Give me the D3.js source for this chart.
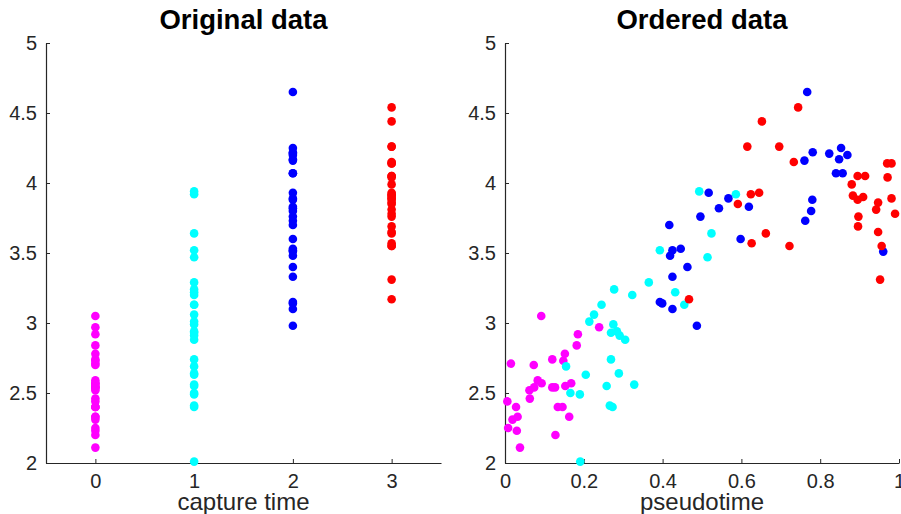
<!DOCTYPE html>
<html>
<head>
<meta charset="utf-8">
<script src="https://cdn.jsdelivr.net/npm/d3@7"></script>
<style>
  body { margin: 0; background: #fff; }
  text { font-family: "Liberation Sans", Arial, Helvetica, sans-serif; }
</style>
</head>
<body>
<svg id="chart" width="901" height="514"></svg>
<script>
// capture time groups and their colours
const captureTimes = [0, 1, 2, 3];
const groupColors = ["#ff00ff", "#00ffff", "#0000ff", "#ff0000"];

// pseudotime / value per capture time group
const pseudo0 = [0.092, 0.239, 0.185, 0.182, 0.152, 0.148, 0.120, 0.015, 0.073, 0.083, 0.093, 0.074, 0.062, 0.063, 0.120,
  0.127, 0.153, 0.168, 0.006, 0.028, 0.134, 0.146, 0.032, 0.019, 0.163, 0.008, 0.030, 0.128, 0.038];
const value0 = [3.05, 2.97, 2.92, 2.84, 2.78, 2.73, 2.74, 2.71, 2.70, 2.59, 2.57, 2.54, 2.52, 2.46, 2.54,
  2.54, 2.55, 2.57, 2.44, 2.40, 2.40, 2.40, 2.33, 2.31, 2.33, 2.25, 2.23, 2.20, 2.11];

const pseudo1 = [0.277, 0.323, 0.365, 0.245, 0.226, 0.214, 0.275, 0.269, 0.284, 0.291, 0.305, 0.155, 0.205, 0.269, 0.289,
  0.258, 0.328, 0.166, 0.190, 0.266, 0.273, 0.191, 0.493, 0.586, 0.524, 0.393, 0.514, 0.432, 0.455];
const value1 = [3.24, 3.20, 3.29, 3.13, 3.06, 3.01, 2.99, 2.93, 2.94, 2.91, 2.88, 2.69, 2.63, 2.74, 2.64,
  2.55, 2.56, 2.50, 2.49, 2.41, 2.40, 2.01, 3.94, 3.92, 3.64, 3.52, 3.47, 3.22, 3.13];

const pseudo2 = [0.767, 0.781, 0.760, 0.823, 0.853, 0.848, 0.869, 0.840, 0.857, 0.780, 0.777, 0.762, 0.619, 0.598, 0.960,
  0.517, 0.567, 0.543, 0.496, 0.417, 0.425, 0.419, 0.446, 0.463, 0.425, 0.393, 0.399, 0.425, 0.487];
const value2 = [4.65, 4.22, 4.16, 4.21, 4.25, 4.17, 4.20, 4.07, 4.07, 3.88, 3.80, 3.73, 3.83, 3.60, 3.51,
  3.93, 3.89, 3.82, 3.76, 3.70, 3.52, 3.48, 3.53, 3.40, 3.33, 3.15, 3.14, 3.10, 2.98];

const pseudo3 = [0.744, 0.652, 0.615, 0.696, 0.733, 0.624, 0.645, 0.591, 0.662, 0.626, 0.722, 0.467, 0.895, 0.914, 0.880,
  0.883, 0.895, 0.909, 0.897, 0.896, 0.947, 0.942, 0.981, 0.990, 0.970, 0.981, 0.971, 0.947, 0.956, 0.952];
const value3 = [4.54, 4.44, 4.26, 4.26, 4.15, 3.92, 3.93, 3.85, 3.64, 3.57, 3.55, 3.17, 4.05, 4.05, 3.99,
  3.91, 3.88, 3.90, 3.76, 3.69, 3.86, 3.81, 3.89, 3.78, 4.14, 4.14, 4.04, 3.65, 3.55, 3.31];

const yTicks = [2, 2.5, 3, 3.5, 4, 4.5, 5];
const pseudoTicks = [0, 0.2, 0.4, 0.6, 0.8, 1];

const pseudoByGroup = [pseudo0, pseudo1, pseudo2, pseudo3];
const valueByGroup = [value0, value1, value2, value3];

const points = [];
captureTimes.forEach((g, gi) => {
  valueByGroup[gi].forEach((v, i) => {
    points.push({ group: g, pseudo: pseudoByGroup[gi][i], value: v, color: groupColors[gi] });
  });
});

const svg = d3.select("#chart");
const plotTop = 43, plotBottom = 463;
const fmt = d3.format("~g");
const axisColor = "#262626";

const y = d3.scaleLinear().domain([2, 5]).range([plotBottom, plotTop]);

const drawPanel = (left, right, title, xLabel, xScale, xTicks, xAccessor) => {
  const g = svg.append("g");

  g.append("g")
    .attr("transform", `translate(0,${plotBottom})`)
    .call(d3.axisBottom(xScale).tickValues(xTicks).tickFormat(fmt).tickSizeInner(-4).tickSizeOuter(0).tickPadding(11));

  g.append("g")
    .attr("transform", `translate(${left},0)`)
    .call(d3.axisLeft(y).tickValues(yTicks).tickFormat(fmt).tickSizeInner(-4).tickSizeOuter(0).tickPadding(9));

  g.selectAll(".domain").attr("stroke", axisColor).attr("stroke-width", 1.2);
  g.selectAll(".tick line").attr("stroke", axisColor).attr("stroke-width", 1);
  g.selectAll(".tick text").attr("font-size", 20).attr("fill", axisColor)
    .style("font-family", '"Liberation Sans", Arial, sans-serif');

  g.selectAll("circle")
    .data(points)
    .enter()
    .append("circle")
    .attr("cx", d => xScale(xAccessor(d)))
    .attr("cy", d => y(d.value))
    .attr("r", 4.3)
    .attr("fill", d => d.color);

  g.append("text")
    .attr("x", (left + right) / 2)
    .attr("y", 29)
    .attr("text-anchor", "middle")
    .attr("font-size", 27.5)
    .attr("font-weight", "bold")
    .attr("fill", "#000")
    .text(title);

  g.append("text")
    .attr("x", (left + right) / 2)
    .attr("y", 510)
    .attr("text-anchor", "middle")
    .attr("font-size", 24)
    .attr("fill", axisColor)
    .text(xLabel);
};

const xGroup = d3.scaleLinear().domain([-0.5, 3.5]).range([46, 441]);
drawPanel(46, 441, "Original data", "capture time", xGroup, captureTimes, d => d.group);

const xPseudo = d3.scaleLinear().domain([0, 1]).range([505, 899]);
drawPanel(505, 899, "Ordered data", "pseudotime", xPseudo, pseudoTicks, d => d.pseudo);
</script>
</body>
</html>
